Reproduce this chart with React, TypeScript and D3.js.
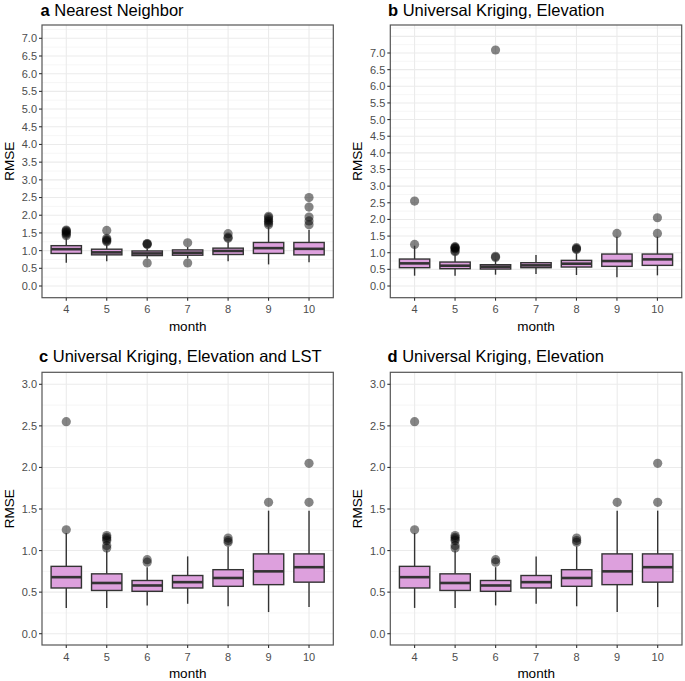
import React from 'react';
import * as d3 from 'd3';

// months on the x axis
const months = [4, 5, 6, 7, 8, 9, 10];

// Nearest Neighbor RMSE box stats per month
const nnLower = [0.66, 0.7, 0.78, 0.78, 0.7, 0.61, 0.67];
const nnQ1 = [0.92, 0.88, 0.86, 0.87, 0.89, 0.92, 0.88];
const nnMedian = [1.04, 0.95, 0.92, 0.94, 0.99, 1.07, 1.05];
const nnQ3 = [1.14, 1.04, 0.99, 1.02, 1.07, 1.23, 1.23];
const nnUpper = [1.35, 1.2, 1.06, 1.1, 1.25, 1.68, 1.58];
const nnOutliers = [
  [1.42, 1.46, 1.5, 1.53, 1.56, 1.58],
  [1.25, 1.28, 1.31, 1.35, 1.57],
  [0.65, 1.17, 1.19, 1.2],
  [0.65, 1.22],
  [1.35, 1.38, 1.48],
  [1.73, 1.78, 1.83, 1.87, 1.93, 1.97],
  [1.73, 1.84, 1.95, 2.23, 2.5],
];

// Universal Kriging RMSE box stats per month
const ukLower = [0.31, 0.31, 0.34, 0.36, 0.33, 0.26, 0.32];
const ukQ1 = [0.55, 0.52, 0.51, 0.55, 0.57, 0.59, 0.62];
const ukMedian = [0.68, 0.61, 0.58, 0.62, 0.67, 0.75, 0.8];
const ukQ3 = [0.81, 0.72, 0.64, 0.7, 0.77, 0.96, 0.96];
const ukUpper = [1.21, 1.0, 0.8, 0.93, 1.05, 1.48, 1.48];
const ukOutliers = [
  [1.25, 2.55],
  [1.03, 1.06, 1.12, 1.14, 1.16, 1.18],
  [0.86, 0.89],
  [],
  [1.1, 1.12, 1.15],
  [1.58],
  [1.58, 2.05],
];
// panel b has one extra outlier in June
const ukElevOutliers = [
  [1.25, 2.55],
  [1.03, 1.06, 1.12, 1.14, 1.16, 1.18],
  [0.86, 0.89, 7.09],
  [],
  [1.1, 1.12, 1.15],
  [1.58],
  [1.58, 2.05],
];

// y tick labels
const ticksTall = [0, 0.5, 1, 1.5, 2, 2.5, 3, 3.5, 4, 4.5, 5, 5.5, 6, 6.5, 7];
const ticksShort = [0, 0.5, 1, 1.5, 2, 2.5, 3];

const FONT = '"Liberation Sans", Arial, Helvetica, sans-serif';

type Stats = { lo: number[]; q1: number[]; med: number[]; q3: number[]; hi: number[]; out: number[][] };

const nn: Stats = { lo: nnLower, q1: nnQ1, med: nnMedian, q3: nnQ3, hi: nnUpper, out: nnOutliers };
const ukB: Stats = { lo: ukLower, q1: ukQ1, med: ukMedian, q3: ukQ3, hi: ukUpper, out: ukElevOutliers };
const uk: Stats = { lo: ukLower, q1: ukQ1, med: ukMedian, q3: ukQ3, hi: ukUpper, out: ukOutliers };

const panels = [
  { tag: 'a', title: 'Nearest Neighbor', left: 42, right: 333.3, top: 25, bottom: 297.7, zeroPx: 286, maxV: 7, maxPx: 38.3, ticks: ticksTall, titleX: 40.5, titleY: 15.5, stats: nn },
  { tag: 'b', title: 'Universal Kriging, Elevation', left: 390.3, right: 681.7, top: 25, bottom: 297.7, zeroPx: 286, maxV: 7, maxPx: 53, ticks: ticksTall, titleX: 388, titleY: 15.5, stats: ukB },
  { tag: 'c', title: 'Universal Kriging, Elevation and LST', left: 42, right: 333.3, top: 372.3, bottom: 645, zeroPx: 633.7, maxV: 3, maxPx: 384.3, ticks: ticksShort, titleX: 39, titleY: 361.5, stats: uk },
  { tag: 'd', title: 'Universal Kriging, Elevation', left: 390.3, right: 682, top: 372.3, bottom: 645, zeroPx: 633.7, maxV: 3, maxPx: 384.3, ticks: ticksShort, titleX: 387.5, titleY: 361.5, stats: uk },
];

const Panel = ({ p }: { p: typeof panels[number] }) => {
  const x = d3.scalePoint<number>().domain(months).range([p.left, p.right]).padding(0.6);
  const y = d3.scaleLinear().domain([0, p.maxV]).range([p.zeroPx, p.maxPx]);
  const boxW = x.step() * 0.75;

  // grid values within the panel
  const vTop = y.invert(p.top);
  const vBot = y.invert(p.bottom);
  const major = d3.range(0, vTop, 0.5).filter(v => v >= vBot);
  const minor = d3.range(0.25, vTop, 0.5).filter(v => v >= vBot);
  const s = p.stats;

  return (
    <g>
      <rect x={p.left} y={p.top} width={p.right - p.left} height={p.bottom - p.top} fill="#fff" />
      {minor.map(v => (
        <line key={'mi' + v} x1={p.left} x2={p.right} y1={y(v)} y2={y(v)} stroke="#F4F4F4" strokeWidth={0.8} />
      ))}
      {major.map(v => (
        <line key={'ma' + v} x1={p.left} x2={p.right} y1={y(v)} y2={y(v)} stroke="#EBEBEB" strokeWidth={1.1} />
      ))}
      {months.map(m => (
        <line key={'vx' + m} x1={x(m)} x2={x(m)} y1={p.top} y2={p.bottom} stroke="#EBEBEB" strokeWidth={1.1} />
      ))}

      {months.map((m, i) => {
        const cx = x(m) as number;
        return (
          <g key={'box' + m}>
            {s.out[i].map((v, j) => (
              <circle key={j} cx={cx} cy={y(v)} r={4.6} fill="#000" fillOpacity={0.48} />
            ))}
            <line x1={cx} x2={cx} y1={y(s.q3[i])} y2={y(s.hi[i])} stroke="#333" strokeWidth={1.4} />
            <line x1={cx} x2={cx} y1={y(s.q1[i])} y2={y(s.lo[i])} stroke="#333" strokeWidth={1.4} />
            <rect
              x={cx - boxW / 2}
              y={y(s.q3[i])}
              width={boxW}
              height={y(s.q1[i]) - y(s.q3[i])}
              fill="#DDA0DD"
              stroke="#333"
              strokeWidth={1.4}
            />
            <line x1={cx - boxW / 2} x2={cx + boxW / 2} y1={y(s.med[i])} y2={y(s.med[i])} stroke="#333" strokeWidth={2.6} />
          </g>
        );
      })}

      <rect x={p.left} y={p.top} width={p.right - p.left} height={p.bottom - p.top} fill="none" stroke="#555" strokeWidth={1.2} />

      {p.ticks.map(v => (
        <g key={'yt' + v}>
          <line x1={p.left - 3} x2={p.left} y1={y(v)} y2={y(v)} stroke="#333" strokeWidth={1.1} />
          <text x={p.left - 5} y={y(v)} dy="0.36em" textAnchor="end" fontSize={11} fill="#4D4D4D" fontFamily={FONT}>
            {v.toFixed(1)}
          </text>
        </g>
      ))}
      {months.map(m => (
        <g key={'xt' + m}>
          <line x1={x(m)} x2={x(m)} y1={p.bottom} y2={p.bottom + 3} stroke="#333" strokeWidth={1.1} />
          <text x={x(m)} y={p.bottom + 15.5} textAnchor="middle" fontSize={11} fill="#4D4D4D" fontFamily={FONT}>
            {m}
          </text>
        </g>
      ))}

      <text x={(p.left + p.right) / 2} y={p.bottom + 33} textAnchor="middle" fontSize={13.5} fill="#000" fontFamily={FONT}>
        month
      </text>
      <text
        transform={`translate(${p.left - 28},${(p.top + p.bottom) / 2}) rotate(-90)`}
        textAnchor="middle"
        fontSize={13.5}
        fill="#000"
        fontFamily={FONT}
      >
        RMSE
      </text>
      <text x={p.titleX} y={p.titleY} fontSize={16.5} fill="#000" fontFamily={FONT}>
        <tspan fontWeight="bold">{p.tag}</tspan> {p.title}
      </text>
    </g>
  );
};

export default function App() {
  return (
    <svg
      width={685}
      height={681}
      viewBox="0 0 685 681"
      style={{ position: 'absolute', left: 0, top: 0, background: '#fff' }}
    >
      {panels.map(p => (
        <Panel key={p.tag} p={p} />
      ))}
    </svg>
  );
}
